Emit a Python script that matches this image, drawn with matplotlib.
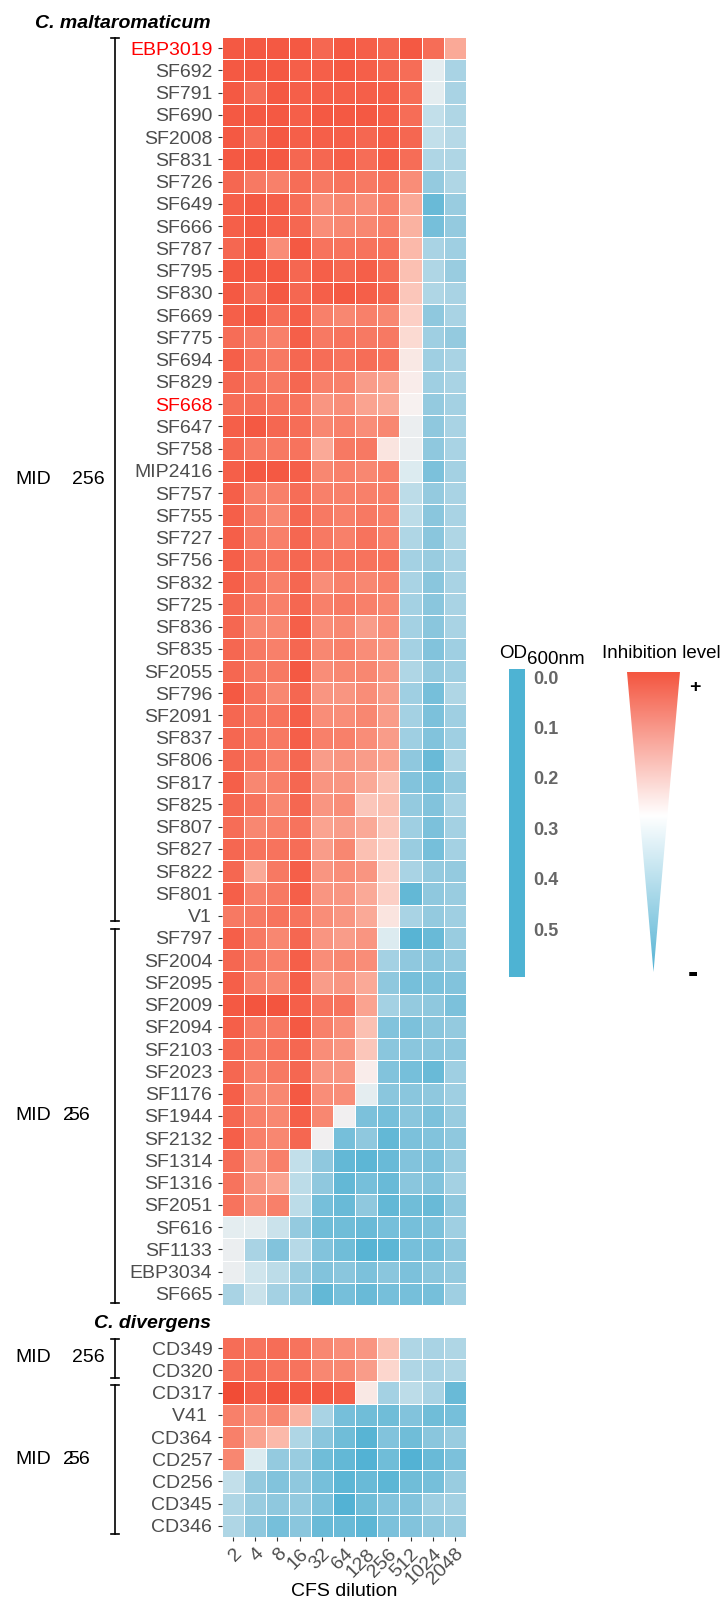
import matplotlib
matplotlib.use("Agg")
import matplotlib.pyplot as plt
import numpy as np
from matplotlib.colors import LinearSegmentedColormap
from matplotlib.patches import Polygon
from matplotlib import transforms

plt.rcParams['font.family'] = ['Liberation Sans', 'DejaVu Sans']

W, H = 727, 1602

dilutions = ['2', '4', '8', '16', '32', '64', '128', '256', '512', '1024', '2048']

# C. maltaromaticum strains and OD600 readings (estimated)
malt_strains = ['EBP3019', 'SF692', 'SF791', 'SF690', 'SF2008', 'SF831', 'SF726', 'SF649',
                'SF666', 'SF787', 'SF795', 'SF830', 'SF669', 'SF775', 'SF694', 'SF829',
                'SF668', 'SF647', 'SF758', 'MIP2416', 'SF757', 'SF755', 'SF727', 'SF756',
                'SF832', 'SF725', 'SF836', 'SF835', 'SF2055', 'SF796', 'SF2091', 'SF837',
                'SF806', 'SF817', 'SF825', 'SF807', 'SF827', 'SF822', 'SF801', 'V1',
                'SF797', 'SF2004', 'SF2095', 'SF2009', 'SF2094', 'SF2103', 'SF2023', 'SF1176',
                'SF1944', 'SF2132', 'SF1314', 'SF1316', 'SF2051', 'SF616', 'SF1133', 'EBP3034',
                'SF665']
malt_od = [
    [0.06, 0.06, 0.06, 0.06, 0.08, 0.06, 0.07, 0.08, 0.06, 0.09, 0.18],
    [0.06, 0.06, 0.06, 0.07, 0.07, 0.06, 0.07, 0.08, 0.09, 0.33, 0.42],
    [0.06, 0.09, 0.06, 0.07, 0.07, 0.07, 0.07, 0.07, 0.09, 0.33, 0.42],
    [0.06, 0.06, 0.06, 0.07, 0.06, 0.06, 0.06, 0.07, 0.09, 0.38, 0.41],
    [0.06, 0.09, 0.06, 0.07, 0.07, 0.07, 0.08, 0.07, 0.08, 0.38, 0.40],
    [0.06, 0.06, 0.06, 0.08, 0.08, 0.07, 0.09, 0.07, 0.09, 0.41, 0.41],
    [0.08, 0.11, 0.12, 0.09, 0.11, 0.10, 0.11, 0.10, 0.14, 0.46, 0.41],
    [0.07, 0.06, 0.07, 0.09, 0.14, 0.13, 0.14, 0.12, 0.18, 0.53, 0.45],
    [0.07, 0.06, 0.07, 0.08, 0.14, 0.13, 0.13, 0.12, 0.19, 0.51, 0.46],
    [0.08, 0.06, 0.14, 0.06, 0.10, 0.10, 0.10, 0.10, 0.20, 0.42, 0.44],
    [0.06, 0.06, 0.06, 0.08, 0.07, 0.08, 0.07, 0.09, 0.21, 0.41, 0.45],
    [0.06, 0.09, 0.06, 0.08, 0.07, 0.06, 0.07, 0.08, 0.22, 0.41, 0.42],
    [0.07, 0.06, 0.09, 0.07, 0.12, 0.13, 0.12, 0.13, 0.23, 0.47, 0.42],
    [0.09, 0.11, 0.12, 0.07, 0.11, 0.10, 0.11, 0.11, 0.25, 0.44, 0.46],
    [0.07, 0.10, 0.11, 0.08, 0.09, 0.10, 0.09, 0.10, 0.28, 0.44, 0.42],
    [0.08, 0.10, 0.11, 0.08, 0.12, 0.12, 0.16, 0.17, 0.29, 0.44, 0.42],
    [0.09, 0.09, 0.10, 0.10, 0.15, 0.14, 0.17, 0.18, 0.30, 0.46, 0.43],
    [0.07, 0.06, 0.08, 0.09, 0.13, 0.12, 0.14, 0.13, 0.32, 0.47, 0.42],
    [0.08, 0.11, 0.11, 0.10, 0.18, 0.11, 0.11, 0.27, 0.32, 0.47, 0.42],
    [0.07, 0.06, 0.06, 0.07, 0.13, 0.12, 0.13, 0.12, 0.34, 0.50, 0.43],
    [0.07, 0.12, 0.12, 0.09, 0.12, 0.12, 0.12, 0.12, 0.39, 0.46, 0.42],
    [0.07, 0.11, 0.13, 0.08, 0.11, 0.12, 0.11, 0.12, 0.39, 0.48, 0.42],
    [0.07, 0.11, 0.12, 0.08, 0.11, 0.12, 0.10, 0.12, 0.41, 0.48, 0.41],
    [0.07, 0.10, 0.10, 0.08, 0.10, 0.10, 0.10, 0.10, 0.43, 0.45, 0.42],
    [0.07, 0.10, 0.12, 0.08, 0.14, 0.12, 0.13, 0.12, 0.42, 0.48, 0.42],
    [0.08, 0.11, 0.12, 0.08, 0.12, 0.11, 0.12, 0.13, 0.43, 0.48, 0.42],
    [0.08, 0.13, 0.13, 0.07, 0.14, 0.13, 0.16, 0.14, 0.43, 0.48, 0.42],
    [0.08, 0.11, 0.12, 0.08, 0.13, 0.12, 0.14, 0.15, 0.43, 0.49, 0.44],
    [0.08, 0.11, 0.11, 0.06, 0.14, 0.13, 0.13, 0.15, 0.41, 0.46, 0.44],
    [0.06, 0.10, 0.13, 0.08, 0.15, 0.15, 0.14, 0.16, 0.44, 0.51, 0.41],
    [0.08, 0.10, 0.10, 0.07, 0.14, 0.14, 0.13, 0.16, 0.43, 0.50, 0.44],
    [0.08, 0.10, 0.11, 0.07, 0.12, 0.12, 0.14, 0.16, 0.44, 0.49, 0.44],
    [0.08, 0.10, 0.12, 0.08, 0.16, 0.15, 0.16, 0.17, 0.47, 0.53, 0.41],
    [0.07, 0.13, 0.12, 0.08, 0.15, 0.15, 0.18, 0.21, 0.49, 0.51, 0.46],
    [0.08, 0.10, 0.13, 0.08, 0.15, 0.14, 0.22, 0.21, 0.46, 0.49, 0.42],
    [0.09, 0.13, 0.12, 0.10, 0.17, 0.16, 0.18, 0.22, 0.44, 0.50, 0.43],
    [0.08, 0.10, 0.10, 0.09, 0.16, 0.13, 0.21, 0.23, 0.45, 0.51, 0.43],
    [0.08, 0.18, 0.11, 0.07, 0.15, 0.14, 0.15, 0.23, 0.42, 0.46, 0.46],
    [0.07, 0.12, 0.11, 0.07, 0.15, 0.15, 0.18, 0.23, 0.54, 0.47, 0.45],
    [0.11, 0.11, 0.10, 0.10, 0.14, 0.15, 0.18, 0.27, 0.42, 0.46, 0.44],
    [0.07, 0.11, 0.13, 0.08, 0.15, 0.16, 0.15, 0.34, 0.56, 0.53, 0.45],
    [0.08, 0.11, 0.12, 0.07, 0.14, 0.13, 0.14, 0.43, 0.47, 0.48, 0.46],
    [0.07, 0.12, 0.13, 0.07, 0.16, 0.15, 0.18, 0.47, 0.51, 0.50, 0.49],
    [0.06, 0.05, 0.05, 0.07, 0.10, 0.10, 0.17, 0.43, 0.46, 0.47, 0.50],
    [0.07, 0.11, 0.11, 0.06, 0.12, 0.14, 0.21, 0.49, 0.50, 0.48, 0.46],
    [0.08, 0.11, 0.10, 0.08, 0.14, 0.15, 0.22, 0.48, 0.48, 0.48, 0.47],
    [0.08, 0.12, 0.11, 0.08, 0.15, 0.15, 0.29, 0.49, 0.51, 0.53, 0.44],
    [0.07, 0.13, 0.13, 0.06, 0.14, 0.14, 0.33, 0.48, 0.48, 0.47, 0.44],
    [0.08, 0.12, 0.13, 0.07, 0.13, 0.31, 0.50, 0.51, 0.48, 0.50, 0.45],
    [0.07, 0.12, 0.13, 0.08, 0.31, 0.51, 0.47, 0.54, 0.50, 0.49, 0.47],
    [0.09, 0.15, 0.12, 0.38, 0.47, 0.54, 0.55, 0.53, 0.49, 0.50, 0.45],
    [0.10, 0.15, 0.17, 0.39, 0.47, 0.54, 0.51, 0.53, 0.48, 0.49, 0.43],
    [0.10, 0.14, 0.12, 0.39, 0.51, 0.53, 0.47, 0.54, 0.52, 0.53, 0.47],
    [0.33, 0.33, 0.37, 0.46, 0.52, 0.52, 0.53, 0.51, 0.51, 0.50, 0.44],
    [0.32, 0.42, 0.49, 0.40, 0.49, 0.52, 0.56, 0.55, 0.51, 0.51, 0.47],
    [0.32, 0.36, 0.39, 0.45, 0.49, 0.48, 0.50, 0.48, 0.50, 0.48, 0.46],
    [0.42, 0.37, 0.43, 0.46, 0.54, 0.51, 0.53, 0.51, 0.51, 0.51, 0.44],
]

# C. divergens strains
div_strains = ['CD349', 'CD320', 'CD317', 'V41 ', 'CD364', 'CD257', 'CD256', 'CD345', 'CD346']
div_od = [
    [0.09, 0.10, 0.09, 0.10, 0.13, 0.14, 0.15, 0.21, 0.41, 0.42, 0.41],
    [0.09, 0.09, 0.10, 0.10, 0.13, 0.13, 0.16, 0.24, 0.41, 0.42, 0.41],
    [0.03, 0.07, 0.05, 0.06, 0.06, 0.07, 0.28, 0.43, 0.39, 0.42, 0.53],
    [0.12, 0.14, 0.13, 0.19, 0.42, 0.51, 0.52, 0.52, 0.49, 0.52, 0.51],
    [0.12, 0.17, 0.20, 0.41, 0.48, 0.52, 0.56, 0.49, 0.52, 0.48, 0.45],
    [0.13, 0.34, 0.46, 0.45, 0.52, 0.54, 0.57, 0.52, 0.57, 0.53, 0.50],
    [0.38, 0.46, 0.49, 0.47, 0.51, 0.55, 0.53, 0.55, 0.52, 0.51, 0.45],
    [0.41, 0.45, 0.47, 0.46, 0.50, 0.57, 0.52, 0.49, 0.49, 0.44, 0.43],
    [0.41, 0.47, 0.51, 0.48, 0.53, 0.53, 0.55, 0.50, 0.49, 0.47, 0.45],
]

highlight = ['EBP3019', 'SF668']
cbar_ticks = [0.0, 0.1, 0.2, 0.3, 0.4, 0.5]

# red (inhibited) -> white -> blue (growth)
anchors = [(0.00, '#EE3F2A'), (0.06, '#F45A44'), (0.12, '#F8806A'), (0.18, '#FAAA98'),
           (0.24, '#FCD6CD'), (0.30, '#F8F1F0'), (0.34, '#DDEBF0'), (0.41, '#AFD6E5'),
           (0.48, '#8AC6DD'), (0.55, '#5DB6D5'), (0.60, '#45ADD2')]
cmap = LinearSegmentedColormap.from_list('od', [(a / 0.6, c) for a, c in anchors])

fig = plt.figure(figsize=(W / 100, H / 100), dpi=100)


def rect(x0, y0, x1, y1):
    return [x0 / W, 1 - y1 / H, (x1 - x0) / W, (y1 - y0) / H]


def heat(ax, data, labels):
    data = np.array(data)
    ax.pcolormesh(np.arange(12), np.arange(len(labels) + 1), data, cmap=cmap,
                  vmin=0, vmax=0.6, edgecolors='white', linewidth=0.6)
    ax.set_xlim(0, 11)
    ax.set_ylim(len(labels), 0)
    ax.set_yticks(np.arange(len(labels)) + 0.5)
    ax.tick_params(axis='y', length=3, pad=4, labelsize=14, color='#333333', labelcolor='#4D4D4D')
    ax.tick_params(axis='x', length=3, pad=3, labelsize=14, color='#333333', labelcolor='#4D4D4D')
    ticklabels = ax.set_yticklabels(labels)
    for t in ticklabels:
        if t.get_text() in highlight:
            t.set_color('red')
    for s in ax.spines.values():
        s.set_visible(False)


def bracket(ax, y0, y1, x=115, cap=4):
    tr = transforms.blended_transform_factory(fig.transFigure, ax.transData)
    xf, cf = x / W, cap / W
    ax.plot([xf, xf], [y0, y1], color='black', lw=1.2, transform=tr, clip_on=False)
    ax.plot([xf - cf, xf + cf], [y0, y0], color='black', lw=1.2, transform=tr, clip_on=False)
    ax.plot([xf - cf, xf + cf], [y1, y1], color='black', lw=1.2, transform=tr, clip_on=False)


def ftext(x, y, s, **kw):
    fig.text(x / W, 1 - y / H, s, **kw)


ax1 = fig.add_axes(rect(222, 37, 466, 1305))
heat(ax1, malt_od, malt_strains)
ax1.set_xticks([])

ax2 = fig.add_axes(rect(222, 1337, 466, 1537))
heat(ax2, div_od, div_strains)
ax2.set_xticks(np.arange(11) + 0.5)
ax2.set_xticklabels(dilutions, rotation=45, ha='right', va='top', rotation_mode='anchor')

bracket(ax1, 0.05, 39.75)
bracket(ax1, 40.1, 56.9)
bracket(ax2, 0.1, 1.85)
bracket(ax2, 2.15, 8.85)

ftext(211, 23, 'C. maltaromaticum', fontsize=14, fontweight='bold', fontstyle='italic', ha='right', va='center')
ftext(211, 1323, 'C. divergens', fontsize=14, fontweight='bold', fontstyle='italic', ha='right', va='center')
ftext(344, 1591, 'CFS dilution', fontsize=14, ha='center', va='center')

for yc in (480, 1358):
    ftext(15, yc, 'MID', fontsize=14, ha='left', va='center')
    ftext(72, yc, '256', fontsize=14, ha='left', va='center')
for yc in (1116, 1459):
    ftext(15, yc, 'MID', fontsize=14, ha='left', va='center')
    ftext(63, yc, '2', fontsize=14, ha='left', va='center')
    ftext(68.5, yc, '56', fontsize=14, ha='left', va='center')

# OD600 bar (single colour)
ax3 = fig.add_axes(rect(509, 669, 525, 977))
ax3.axhspan(-0.1, 0.7, color='#4EB3D3')
ax3.set_ylim(0.595, -0.016)
ax3.set_xlim(0, 1)
ax3.set_xticks([])
ax3.yaxis.tick_right()
ax3.set_yticks(cbar_ticks)
ax3.set_yticklabels(['%.1f' % t for t in cbar_ticks])
ax3.tick_params(axis='y', length=0, pad=6, labelsize=13, labelcolor='#666666')
for t in ax3.get_yticklabels():
    t.set_fontweight('bold')
for s in ax3.spines.values():
    s.set_visible(False)

ftext(499, 658, 'OD', fontsize=13.5, ha='left', va='baseline')
ftext(527, 664, '600nm', fontsize=13.5, ha='left', va='baseline')
ftext(602, 658, 'Inhibition level', fontsize=13.5, ha='left', va='baseline')

# inhibition triangle with gradient
ax4 = fig.add_axes(rect(620, 665, 690, 980))
ax4.axis('off')
grad_cmap = LinearSegmentedColormap.from_list('g', [(0, '#F4553F'), (0.48, '#FFFFFF'), (1, '#55B3D4')])
img = ax4.imshow(np.linspace(0, 1, 256).reshape(-1, 1), cmap=grad_cmap, aspect='auto',
                 extent=(627, 680, 972, 672))
tri = Polygon([(627, 672), (680, 672), (653.5, 972)], closed=True, facecolor='none', edgecolor='none',
              transform=ax4.transData)
ax4.add_patch(tri)
img.set_clip_path(tri)
ax4.set_xlim(620, 690)
ax4.set_ylim(980, 665)

ftext(695, 687, '+', fontsize=14, fontweight='bold', ha='center', va='center')
ftext(693, 974, '-', fontsize=22, fontweight='bold', ha='center', va='center')

fig.savefig('out.png', dpi=100)
